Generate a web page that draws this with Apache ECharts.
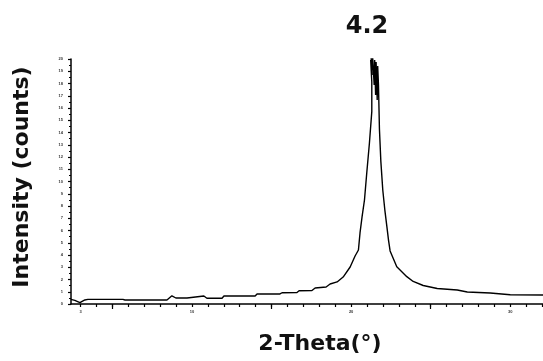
<!DOCTYPE html>
<html>
<head>
<meta charset="utf-8">
<script src="https://cdn.jsdelivr.net/npm/echarts@6/dist/echarts.min.js"></script>
<style>html,body{margin:0;padding:0;background:#fff}#c{width:543px;height:361px}</style>
</head>
<body>
<div id="c"></div>
<script>
// Data (2-Theta in degrees, intensity in relative units)
var theta = [2.39, 2.64, 2.96, 3.27, 3.46, 5.66, 5.79, 8.43, 8.55, 8.74, 8.99, 9.69, 9.81, 10.75, 10.94, 11.89, 12.01, 13.97, 14.09, 15.53, 15.66, 16.60, 16.73, 17.54, 17.74, 18.43, 18.68, 19.12, 19.50, 19.94, 20.25, 20.46, 20.56, 20.69, 20.84, 20.99, 21.15, 21.30, 21.30,
  21.23, 21.32, 21.26, 21.38, 21.35, 21.45, 21.48, 21.54, 21.57, 21.64, 21.67, 21.72,
  21.78, 21.87, 21.99, 22.12, 22.25, 22.35, 22.45, 22.87, 23.50, 23.90, 24.53, 25.41, 26.67, 27.30, 28.74, 30.00, 32.08, 33.00];
var intensity = [0.38, 0.29, 0.11, 0.33, 0.38, 0.38, 0.33, 0.33, 0.45, 0.67, 0.49, 0.49, 0.61, 0.65, 0.47, 0.47, 0.65, 0.65, 0.82, 0.82, 0.92, 0.94, 1.08, 1.10, 1.31, 1.39, 1.63, 1.80, 2.20, 3.02, 3.92, 4.41, 5.80, 7.13, 8.49, 10.80, 13.12, 15.70, 18.12,
  19.92, 18.69, 20.08, 19.10, 20.24, 17.88, 19.92, 17.06, 19.76, 16.65, 19.43, 17.88,
  14.29, 11.62, 9.31, 7.67, 6.29, 5.22, 4.33, 3.04, 2.23, 1.84, 1.51, 1.27, 1.14, 0.98, 0.90, 0.76, 0.73, 0.72];
var xLabelValues = [3, 10, 20, 30];
var xTickValues = [3,4,5,6,7,8,9,10,11,12,13,14,15,16,17,18,19,20,21,22,23,24,25,26,27,28,29,30,31,32,33];
var xLongTickValues = [5, 15, 25];
var yTickLabels = ['0','1','2','3','4','5','6','7','8','9','10','11','12','13','14','15','16','17','18','19','20'];
var titleText = '4.2';
var xName = '2-Theta(°)';
var yName = 'Intensity (counts)';

var points = theta.map(function (t, i) { return [t, intensity[i]]; });
var chart = echarts.init(document.getElementById('c'), null, {renderer: 'canvas'});
var bold = 'bold 22px "DejaVu Sans"';
chart.setOption({
  animation: false,
  backgroundColor: '#fff',
  grid: {left: 71, top: 59, bottom: 57, width: 487, containLabel: false, outerBoundsMode: 'none'},
  xAxis: [{
    type: 'value', min: 2.4, max: 33,
    axisLine: {show: true, lineStyle: {color: '#000', width: 1.5}},
    axisTick: {show: true, length: 3, inside: false, customValues: xTickValues, lineStyle: {color: '#000', width: 1.2}},
    axisLabel: {show: true, customValues: xLabelValues, fontSize: 4, fontWeight: 'bold', color: '#333', margin: 6, showMinLabel: true, showMaxLabel: true},
    splitLine: {show: false}
  }, {
    type: 'value', min: 2.4, max: 33, position: 'bottom', gridIndex: 0,
    axisLine: {show: false},
    axisTick: {show: true, length: 5, customValues: xLongTickValues, lineStyle: {color: '#000', width: 1.2}},
    axisLabel: {show: false},
    splitLine: {show: false}
  }],
  yAxis: {
    type: 'value', min: 0, max: 20, interval: 1,
    axisLine: {show: true, lineStyle: {color: '#000', width: 1.5}},
    axisTick: {show: true, length: 3, lineStyle: {color: '#000', width: 1.2}},
    minorTick: {show: true, splitNumber: 2, length: 2, lineStyle: {color: '#000', width: 1}},
    axisLabel: {show: true, fontSize: 4, fontWeight: 'bold', color: '#333', margin: 8,
      formatter: function (v) { return yTickLabels[Math.round(v)] || ''; }},
    splitLine: {show: false}
  },
  series: [{
    type: 'line', data: points, xAxisIndex: 0, showSymbol: false, symbol: 'none',
    lineStyle: {color: '#000', width: 1.4}, clip: true
  }],
  graphic: [
    {type: 'text', x: 367, y: 27, style: {text: titleText, font: 'bold 24px "DejaVu Sans"', fill: '#111', align: 'center', verticalAlign: 'middle'}},
    {type: 'text', x: 320, y: 344, style: {text: xName, font: bold, fill: '#111', align: 'center', verticalAlign: 'middle'}},
    {type: 'text', x: 22, y: 177, rotation: Math.PI / 2, style: {text: yName, font: bold, fill: '#111', align: 'center', verticalAlign: 'middle'}}
  ]
});
</script>
</body>
</html>
